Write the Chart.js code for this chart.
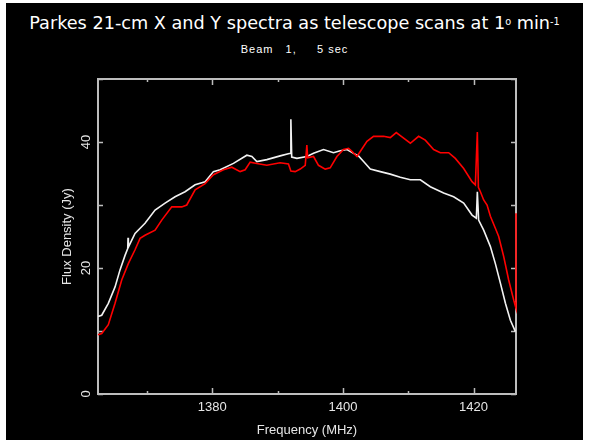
<!DOCTYPE html>
<html><head><meta charset="utf-8">
<script src="https://cdn.jsdelivr.net/npm/chart.js@4/dist/chart.umd.min.js"></script>
<style>
html,body{margin:0;padding:0;background:#fff;width:589px;height:443px;overflow:hidden}
#panel{position:absolute;left:6px;top:3px;width:577px;height:437px;background:#000}
#title{position:absolute;left:0;width:589px;top:9px;text-align:center;color:#fff;font:20px "Comic Sans MS","DejaVu Sans",sans-serif;white-space:nowrap;line-height:28px}
#title sup{font-size:0.55em;vertical-align:0.45em;line-height:0}
#sub{position:absolute;left:0;width:589px;top:43px;text-align:center;color:#fff;font:11px "Liberation Sans",Arial,sans-serif;white-space:pre;letter-spacing:1px}
canvas{position:absolute;left:0;top:0}
</style></head><body>
<div id="panel"></div>
<div id="title"><span id="tt">Parkes 21-cm X and Y spectra as telescope scans at 1<sup>o</sup> min<sup>-1</sup></span></div>
<div id="sub">Beam   1,     5 sec</div>
<canvas id="c" width="589" height="443"></canvas>
<script>
// X polarisation (white)
const freqX = [1362.5,1363.07,1364.08,1365.11,1365.87,1366.64,1367.05,1367.1,1367.15,1368.17,1369.7,1371.24,1372.77,1374.3,1375.83,1377.37,1378.9,1380.17,1381.2,1383.24,1385.29,1386.06,1386.82,1388.35,1390.39,1391.93,1392.03,1392.16,1392.95,1394.48,1395.5,1397.03,1398.56,1399.59,1400.62,1401.63,1402.39,1403.16,1404.19,1405.72,1407.25,1408.78,1410.32,1411.85,1413.38,1415.42,1416.95,1418.49,1419.77,1420.43,1420.58,1420.78,1421.55,1422.58,1423.34,1424.11,1424.88,1425.64,1426.41];
const fluxX = [12.3,12.5,14.4,17.0,19.7,22.0,23.1,24.8,23.3,25.5,27.1,29.2,30.3,31.3,32.1,33.2,33.7,35.3,35.6,36.6,37.9,37.7,36.9,37.2,37.8,38.2,43.6,37.6,37.4,37.7,38.2,38.8,38.3,38.6,38.8,38.2,37.8,36.9,35.7,35.3,34.9,34.4,34.0,34.0,32.9,31.9,31.3,30.3,28.4,27.9,32.1,27.6,26.0,23.4,20.7,17.6,14.4,11.7,9.9];
// Y polarisation (red)
const freqY = [1362.5,1363.07,1364.08,1365.11,1366.13,1367.14,1368.17,1368.94,1369.7,1371.24,1372.26,1373.8,1375.33,1376.09,1377.37,1378.9,1380.17,1381.7,1382.99,1384.26,1385.03,1385.8,1386.82,1388.35,1390.39,1391.66,1392.03,1392.69,1393.46,1394.23,1394.48,1394.6,1395.5,1396.26,1397.29,1398.05,1399.08,1400.09,1400.86,1401.38,1402.15,1402.65,1403.68,1404.69,1406.22,1407.25,1408.17,1409.04,1410.32,1411.59,1412.61,1413.89,1414.91,1416.19,1417.21,1418.49,1419.77,1420.28,1420.58,1420.74,1421.05,1421.55,1422.07,1422.58,1423.34,1423.85,1424.62,1425.38,1426.15,1426.5,1426.5,1426.5];
const fluxY = [9.4,9.6,11.0,14.4,18.1,20.7,22.9,24.7,25.2,26.0,27.6,29.7,29.7,30.0,32.4,33.4,34.8,35.6,36.0,35.3,35.6,36.8,36.6,36.3,36.7,36.5,35.4,35.3,35.7,36.3,39.5,37.5,37.7,36.3,35.7,35.9,37.7,38.8,39.0,38.5,37.7,38.5,40.1,40.9,40.9,40.7,41.5,40.8,39.8,40.9,40.3,38.8,38.3,38.3,37.4,35.8,33.7,33.2,41.6,32.8,32.1,30.8,30.0,28.2,26.3,25.0,21.8,18.1,14.9,13.6,28.7,20.0];

const xTickValues = [1370,1380,1390,1400,1410,1420];
const xTickLabels = ['','1380','','1400','','1420'];
const yTickValues = [0,10,20,30,40,50];
const yTickLabels = ['0','','20','','40',''];

// fit title width to the reference span
(function(){
  const tt = document.getElementById('tt');
  const w = tt.getBoundingClientRect().width;
  const size = 20 * 531 / w;
  document.getElementById('title').style.fontSize = size.toFixed(2) + 'px';
})();

const axisColor = '#bdbdbd';
const textColor = '#e6e6e6';

const framePlugin = {
  id: 'frame',
  beforeDatasetsDraw(chart) {
    const {ctx, chartArea: a, scales} = chart;
    ctx.save();
    ctx.strokeStyle = axisColor;
    ctx.lineWidth = 2;
    ctx.strokeRect(a.left, a.top, a.right - a.left, a.bottom - a.top);
    ctx.lineWidth = 1.5;
    ctx.beginPath();
    scales.x.ticks.forEach(t => {
      const px = Math.round(scales.x.getPixelForValue(t.value)) + 0.5;
      const len = (t.value % 20 === 0) ? 6 : 3;
      ctx.moveTo(px, a.bottom); ctx.lineTo(px, a.bottom - len);
      ctx.moveTo(px, a.top); ctx.lineTo(px, a.top + len);
    });
    scales.y.ticks.forEach(t => {
      const py = Math.round(scales.y.getPixelForValue(t.value)) + 0.5;
      const len = 5;
      ctx.moveTo(a.left, py); ctx.lineTo(a.left + len, py);
      ctx.moveTo(a.right, py); ctx.lineTo(a.right - len, py);
    });
    ctx.stroke();
    ctx.restore();
  }
};

const font13 = {family: '"Liberation Sans", Arial, sans-serif', size: 13};

new Chart(document.getElementById('c'), {
  type: 'line',
  data: {
    datasets: [
      {label: 'Y', data: freqY.map((f,i)=>({x:f, y:fluxY[i]})), borderColor: '#ff0000', borderWidth: 1.6, pointRadius: 0, tension: 0, clip: 4},
      {label: 'X', data: freqX.map((f,i)=>({x:f, y:fluxX[i]})), borderColor: '#f2f2f2', borderWidth: 1.6, pointRadius: 0, tension: 0, clip: 4}
    ]
  },
  options: {
    responsive: false,
    animation: false,
    layout: {padding: {left: 0, top: 79, right: 73, bottom: 0}},
    plugins: {legend: {display: false}, tooltip: {enabled: false}},
    scales: {
      x: {
        type: 'linear', min: 1362.5, max: 1426.5,
        afterBuildTicks: s => { s.ticks = xTickValues.map(v => ({value: v})); },
        afterFit: s => { s.height = 49; },
        grid: {display: false, drawTicks: false},
        border: {display: false},
        ticks: {autoSkip: false, maxRotation: 0, padding: 6, color: textColor, font: font13,
          callback: v => { const i = xTickValues.indexOf(v); return i >= 0 ? xTickLabels[i] : ''; }},
        title: {display: true, text: 'Frequency (MHz)', color: textColor, font: font13, padding: {top: 0, bottom: 5}}
      },
      y: {
        type: 'linear', min: 0, max: 50,
        afterBuildTicks: s => { s.ticks = yTickValues.map(v => ({value: v})); },
        afterFit: s => { s.width = 98; },
        grid: {display: false, drawTicks: false},
        border: {display: false},
        ticks: {autoSkip: false, minRotation: 90, maxRotation: 90, crossAlign: 'center', padding: 4, color: textColor, font: font13,
          callback: v => { const i = yTickValues.indexOf(v); return i >= 0 ? yTickLabels[i] : ''; }},
        title: {display: true, text: 'Flux Density (Jy)', color: textColor, font: font13, padding: {top: 60, bottom: 0}}
      }
    }
  },
  plugins: [framePlugin]
});
</script>
</body></html>
